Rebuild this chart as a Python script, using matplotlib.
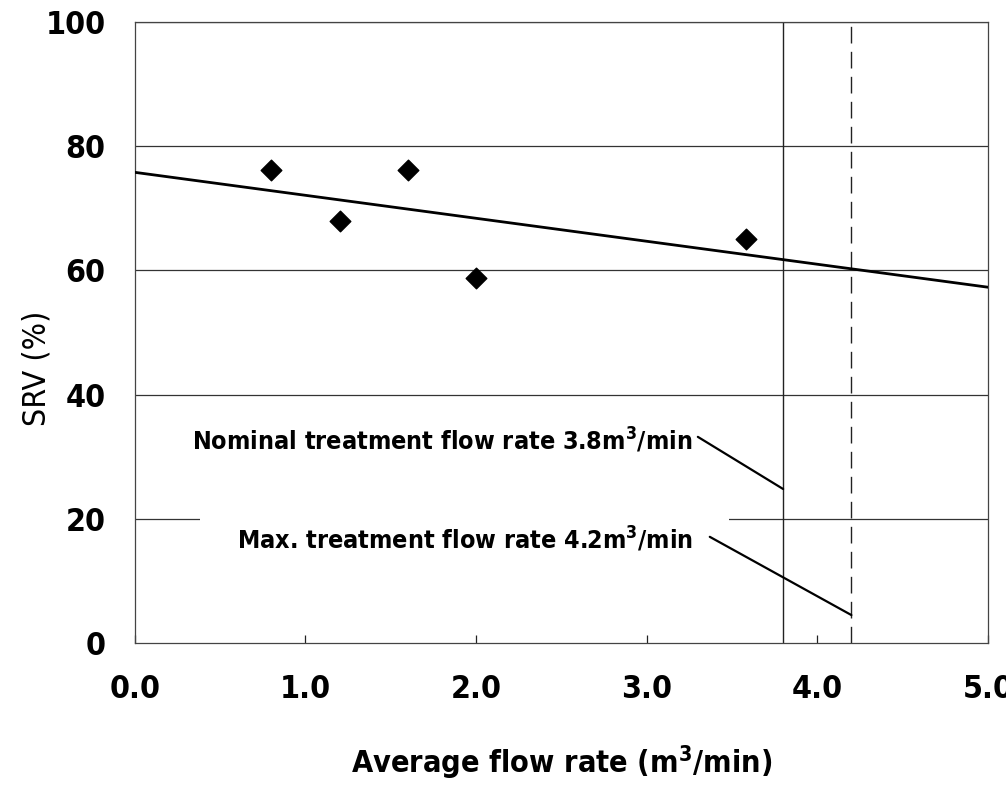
import matplotlib
matplotlib.use('Agg')
import matplotlib.pyplot as plt

# data
flow = [0.80, 1.20, 1.60, 2.00, 3.58]
srv = [76.2, 68.0, 76.1, 58.8, 65.0]
trend_x = [0.0, 5.0]
trend_y = [75.8, 57.3]
nominal_flow = 3.8
max_flow = 4.2
xticks = [0.0, 1.0, 2.0, 3.0, 4.0, 5.0]
yticks = [0, 20, 40, 60, 80, 100]

plt.rcParams['font.family'] = ['DejaVu Sans']
plt.rcParams['font.stretch'] = 'condensed'
plt.rcParams['font.weight'] = 'bold'
plt.rcParams['mathtext.default'] = 'regular'

fig = plt.figure(figsize=(10.06, 7.88), dpi=100)
ax = fig.add_axes([0.134, 0.184, 0.848, 0.788])

ax.set_xlim(0, 5)
ax.set_ylim(0, 100)

# horizontal grid
for y in yticks[1:]:
    ax.axhline(y, color='#333333', lw=0.9, zorder=1)

# flow rate markers
ax.axvline(nominal_flow, color='#222222', lw=1.0, zorder=1)
ax.axvline(max_flow, color='#222222', lw=1.0, ls=(0, (12, 6)), zorder=1)

ax.plot(trend_x, trend_y, color='black', lw=2.0, zorder=3)
ax.scatter(flow, srv, marker='D', s=110, color='black', zorder=4)

# callouts: text, then a plain line to the marker line
ax.text(3.27, 32.6, 'Nominal treatment flow rate 3.8m$^3$/min', ha='right',
        va='center', fontsize=18, fontweight='bold', fontstretch='condensed',
        zorder=5)
ax.annotate('', xy=(nominal_flow, 24.8), xytext=(3.30, 33.2),
            arrowprops=dict(arrowstyle='-', color='black', lw=1.6,
                            shrinkA=0, shrinkB=0), zorder=5)
ax.text(3.27, 16.6, 'Max. treatment flow rate 4.2m$^3$/min', ha='right',
        va='center', fontsize=18, fontweight='bold', fontstretch='condensed',
        bbox=dict(boxstyle='square,pad=1.45', fc='white', ec='none'), zorder=4)
ax.annotate('', xy=(max_flow, 4.5), xytext=(3.37, 17.1),
            arrowprops=dict(arrowstyle='-', color='black', lw=1.6,
                            shrinkA=0, shrinkB=0), zorder=5)

ax.set_xticks(xticks)
ax.set_xticklabels(['%.1f' % v for v in xticks])
ax.set_yticks(yticks)
ax.tick_params(axis='x', direction='in', length=6, width=0.9, pad=22,
               labelsize=23, colors='#222222')
ax.tick_params(axis='y', length=0, pad=21, labelsize=23)
for lab in ax.get_xticklabels() + ax.get_yticklabels():
    lab.set_fontweight('bold')
    lab.set_fontstretch('condensed')
    lab.set_color('black')

for sp in ax.spines.values():
    sp.set_color('#444444')
    sp.set_linewidth(0.9)

ax.set_xlabel('Average flow rate (m$^3$/min)', fontsize=22, fontweight='bold',
              fontstretch='condensed', labelpad=28)
ax.set_ylabel('SRV (%)', fontsize=23, fontweight='normal', fontstretch='condensed')
ax.yaxis.set_label_coords(-0.097, 0.443)

fig.savefig('out.png', dpi=100, facecolor='white')
